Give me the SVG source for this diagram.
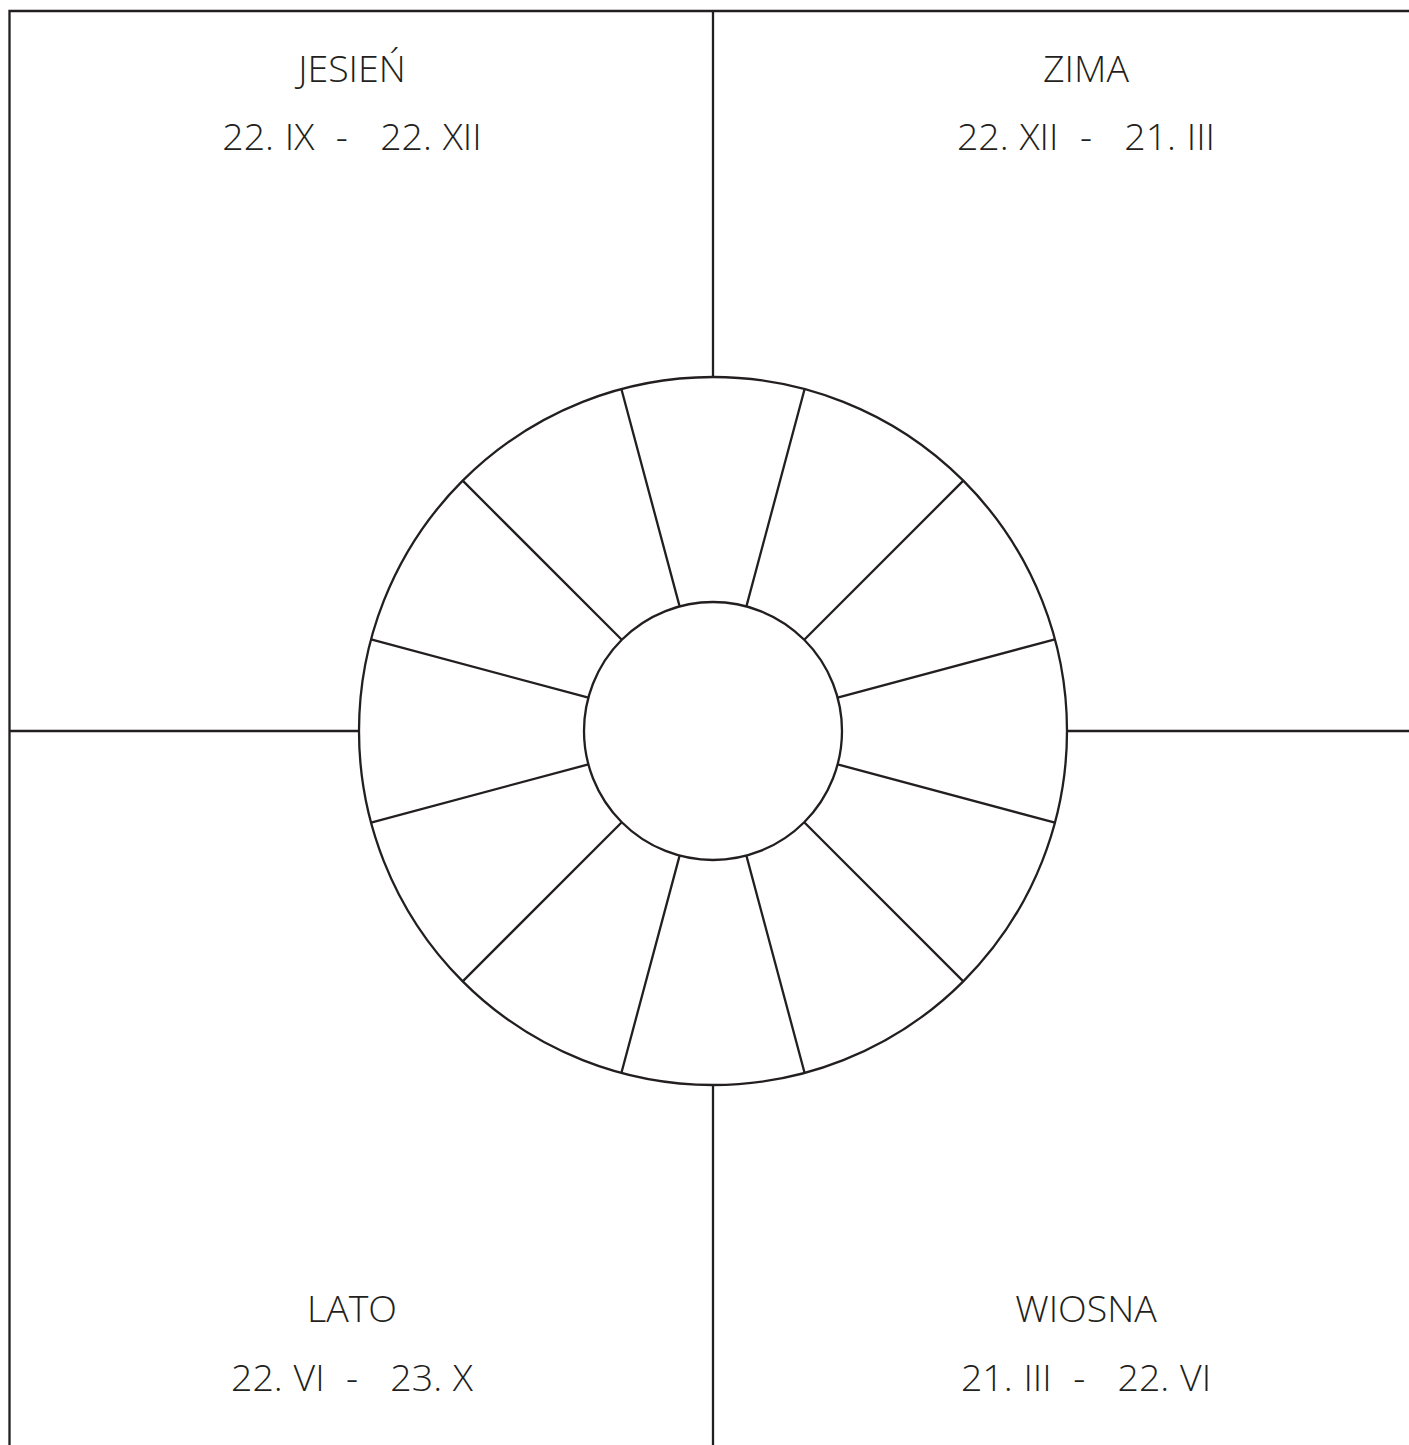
<svg xmlns="http://www.w3.org/2000/svg" width="1409" height="1445" viewBox="0 0 1409 1445">
  <style>
    .ln { stroke: #231f20; stroke-width: 2.3; fill: none; }
    .t { font-family: "Open Sans", "Liberation Sans", sans-serif; font-weight: 300; font-size: 37.5px; fill: #231f20; text-anchor: middle; white-space: pre; }
    .d { word-spacing: 1px; }
  </style>
  <rect width="1409" height="1445" fill="#ffffff"/>
  <g id="frame">
    <path class="ln" d="M9.5 1445 V11 H1409"/>
    <path class="ln" d="M713 11 V377 M713 1085 V1445 M9.5 731 H359 M1067 731 H1409"/>
  </g>
  <g id="wheel">
    <circle class="ln" cx="713" cy="731" r="354"/>
    <circle class="ln" cx="713" cy="731" r="129"/>
  </g>
  <g id="connectors">
    <path class="ln" d="M746.39 606.40 L804.62 389.06 M679.61 606.40 L621.38 389.06 M804.22 639.78 L963.32 480.68 M621.78 639.78 L462.68 480.68 M837.60 697.61 L1054.94 639.38 M588.40 697.61 L371.06 639.38 M837.60 764.39 L1054.94 822.62 M588.40 764.39 L371.06 822.62 M804.22 822.22 L963.32 981.32 M621.78 822.22 L462.68 981.32 M746.39 855.60 L804.62 1072.94 M679.61 855.60 L621.38 1072.94"/>
  </g>
  <g id="jesien">
    <text class="t" x="352" y="82">JESIEŃ</text>
    <text class="t d" x="352" y="150">22. IX  -   22. XII</text>
  </g>
  <g id="zima">
    <text class="t" x="1086" y="82">ZIMA</text>
    <text class="t d" x="1086" y="150">22. XII  -   21. III</text>
  </g>
  <g id="lato">
    <text class="t" x="352" y="1322">LATO</text>
    <text class="t d" x="352" y="1391">22. VI  -   23. X</text>
  </g>
  <g id="wiosna">
    <text class="t" x="1086" y="1322">WIOSNA</text>
    <text class="t d" x="1086" y="1391">21. III  -   22. VI</text>
  </g>
</svg>
